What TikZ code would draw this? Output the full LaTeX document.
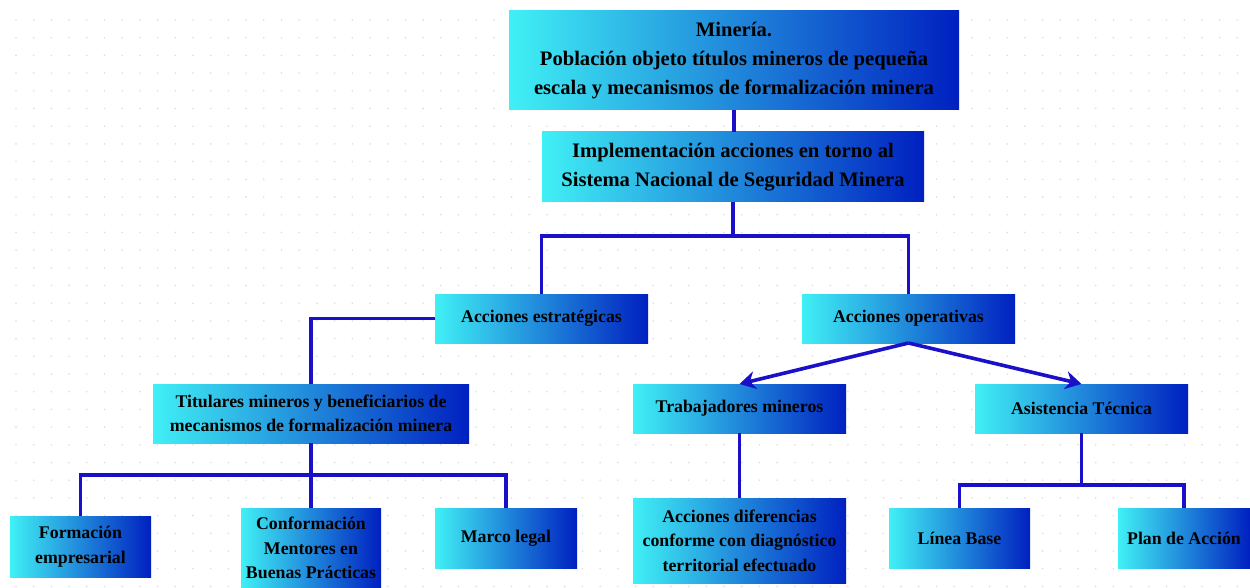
\documentclass[tikz,border=0pt]{standalone}
\usepackage{fontspec}
\setmainfont{Liberation Serif}
\usetikzlibrary{arrows.meta}
\definecolor{lineblue}{RGB}{26,16,200}
\definecolor{cyanL}{RGB}{64,240,245}
\definecolor{blueR}{RGB}{0,32,192}
\definecolor{dotgray}{RGB}{222,222,226}
\tikzset{
  box/.style={inner sep=0pt, outer sep=0pt, left color=cyanL, right color=blueR, shading angle=90, draw=none, align=center, text=black, font=\bfseries\fontsize{17.8}{24.5}\selectfont},
  bigbox/.style={box, font=\bfseries\fontsize{20.6}{29}\selectfont},
  conn/.style={draw=lineblue, line width=3.6pt},
  arr/.style={conn, -{Stealth[length=16pt,width=18pt]}}
}
\begin{document}
\begin{tikzpicture}[x=1pt,y=-1pt]
\useasboundingbox (0,0) rectangle (1250,588);
\fill[white] (0,0) rectangle (1250,588);
\foreach \i in {0,...,70}{\foreach \j in {0,...,32}{
  \fill[dotgray] ({16+17.7*\i},{20+17.7*\j}) circle (0.9pt);}}
% nodes
\node[bigbox, minimum width=450, minimum height=99] (top) at (734,60.5) {Minería.\\Población objeto títulos mineros de pequeña\\escala y mecanismos de formalización minera};
\node[bigbox, minimum width=382, minimum height=70] (impl) at (733,167) {Implementación acciones en torno al\\Sistema Nacional de Seguridad Minera};
\node[box, minimum width=213, minimum height=49] (estr) at (541.5,318.5) {Acciones estratégicas};
\node[box, minimum width=213, minimum height=49] (oper) at (908.5,318.5) {Acciones operativas};
\node[box, minimum width=316, minimum height=59] (tit) at (311,413.5) {Titulares mineros y beneficiarios de\\mecanismos de formalización minera};
\node[box, minimum width=213, minimum height=49] (trab) at (739.5,408.5) {Trabajadores mineros};
\node[box, minimum width=213, minimum height=49] (asis) at (1081.5,408.5) {Asistencia Técnica};
\node[box, minimum width=141, minimum height=61] (form) at (80.5,546.5) {Formación\\empresarial};
\node[box, minimum width=140, minimum height=80] (conf) at (311,548) {Conformación\\Mentores en\\Buenas Prácticas};
\node[box, minimum width=142, minimum height=60] (marco) at (506,538) {Marco legal};
\node[box, minimum width=213, minimum height=85] (dif) at (739.5,540.5) {Acciones diferencias\\conforme con diagnóstico\\territorial efectuado};
\node[box, minimum width=141, minimum height=60] (linea) at (959.5,538) {Línea Base};
\node[box, minimum width=132, minimum height=60] (plan) at (1184,538) {Plan de Acción};
% connectors
\draw[conn] (top.south) -- (top.south |- impl.north);
\draw[conn] (impl.south) -- ++(0,34) -| (estr.north);
\draw[conn] (impl.south) -- ++(0,34) -| (oper.north);
\draw[conn] (estr.west) -| (tit.north);
\draw[conn] (tit.south) -- ++(0,32) -| (form.north);
\draw[conn] (tit.south) -- (conf.north);
\draw[conn] (tit.south) -- ++(0,32) -| (marco.north);
\draw[arr] (oper.south) -- (trab.north);
\draw[arr] (oper.south) -- (asis.north);
\draw[conn] (trab.south) -- (dif.north);
\draw[conn] (asis.south) -- ++(0,52) -| (linea.north);
\draw[conn] (asis.south) -- ++(0,52) -| (plan.north);
\end{tikzpicture}
\end{document}
